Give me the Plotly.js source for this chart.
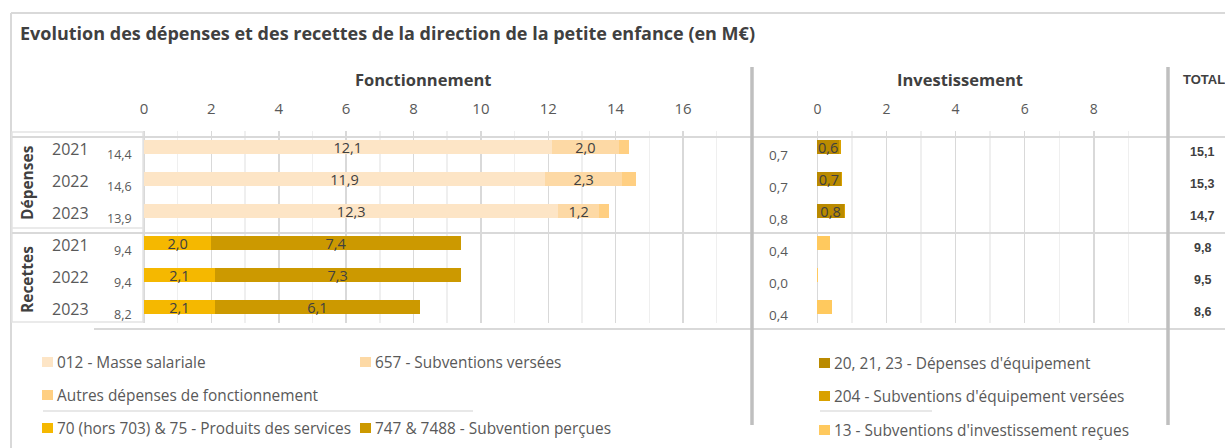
<!DOCTYPE html>
<html>
<head>
<meta charset="utf-8">
<script src="https://cdn.plot.ly/plotly-3.0.1.min.js"></script>
<style>
html,body{margin:0;padding:0;background:#fff;}
#chart{width:1225px;height:448px;}
</style>
</head>
<body>
<div id="chart"></div>
<script>
// ---------- Data ----------
const years = ['2021', '2022', '2023', '2021', '2022', '2023'];
const groupNames = ['Dépenses', 'Recettes'];
const depRows = [0, 1, 2];
const recRows = [3, 4, 5];

// Fonctionnement - dépenses
const masseSalariale = [12.1, 11.9, 12.3];
const subventionsVersees = [2.0, 2.3, 1.2];
const autresDepFonct = [0.3, 0.4, 0.3];
// Fonctionnement - recettes
const produitsServices = [2.0, 2.1, 2.1];
const subventionPercues = [7.4, 7.3, 6.1];
// Investissement - dépenses
const depEquipement = [0.62, 0.67, 0.76];
const subvEquipVersees = [0.05, 0.05, 0.05];
// Investissement - recettes
const subvInvestRecues = [0.37, 0.03, 0.42];

// Totals shown as labels
const fonctTotals = [14.4, 14.6, 13.9, 9.4, 9.4, 8.2];
const investTotals = [0.7, 0.7, 0.8, 0.4, 0.0, 0.4];
const grandTotals = [15.1, 15.3, 14.7, 9.8, 9.5, 8.6];

const seriesNames = {
  masse: '012 - Masse salariale',
  subv657: '657 - Subventions versées',
  autres: 'Autres dépenses de fonctionnement',
  produits: '70 (hors 703) & 75 - Produits des services',
  subvPercues: '747 & 7488 - Subvention perçues',
  equip: "20, 21, 23 - Dépenses d'équipement",
  subv204: "204 - Subventions d'équipement versées",
  subv13: "13 - Subventions d'investissement reçues"
};
const colors = {
  masse: '#FDE5C6',
  subv657: '#FDD9A5',
  autres: '#FFCF82',
  produits: '#F5B800',
  subvPercues: '#CC9900',
  equip: '#BA8A00',
  subv204: '#D9A100',
  subv13: '#FFC95E'
};

// ---------- Helpers ----------
const W = 1225, T = 131, B = 323;
const xP = x => x / W;
const yP = y => (B - y) / (B - T);
const fmt = v => v.toFixed(1).replace('.', ',');
const FONT = 'Open Sans, Liberation Sans, sans-serif';
const TXT = '#595959';

function barTrace(key, x, y, axis, showText) {
  return {
    type: 'bar', orientation: 'h', name: seriesNames[key],
    x: x, y: y, xaxis: axis, yaxis: 'y',
    width: 0.41,
    marker: {color: colors[key], line: {width: 0}},
    texttemplate: showText ? '%{x:.1f}' : '',
    textposition: showText ? 'inside' : 'none',
    insidetextanchor: 'middle',
    constraintext: 'none',
    textangle: 0,
    textfont: {family: FONT, size: 14.5, color: '#404040'},
    hoverinfo: 'skip', showlegend: false
  };
}

const data = [
  barTrace('masse', masseSalariale, depRows, 'x', true),
  barTrace('subv657', subventionsVersees, depRows, 'x', true),
  barTrace('autres', autresDepFonct, depRows, 'x', false),
  barTrace('produits', produitsServices, recRows, 'x', true),
  barTrace('subvPercues', subventionPercues, recRows, 'x', true),
  barTrace('equip', depEquipement, depRows, 'x2', true),
  barTrace('subv204', subvEquipVersees, depRows, 'x2', false),
  barTrace('subv13', subvInvestRecues, recRows, 'x2', false)
];

// ---------- Annotations ----------
const ann = [];
ann.push({text: 'Evolution des dépenses et des recettes de la direction de la petite enfance (en M€)',
  xref: 'paper', yref: 'paper', x: xP(18), y: yP(33), xanchor: 'left', yanchor: 'middle',
  showarrow: false, font: {family: FONT, size: 18, color: '#404040', weight: 'bold'}});
ann.push({text: 'Fonctionnement', xref: 'paper', yref: 'paper', x: xP(423), y: yP(79),
  xanchor: 'center', yanchor: 'middle', showarrow: false,
  font: {family: FONT, size: 16.5, color: '#404040', weight: 'bold'}});
ann.push({text: 'Investissement', xref: 'paper', yref: 'paper', x: xP(960), y: yP(79),
  xanchor: 'center', yanchor: 'middle', showarrow: false,
  font: {family: FONT, size: 16.5, color: '#404040', weight: 'bold'}});
ann.push({text: 'TOTAL', xref: 'paper', yref: 'paper', x: xP(1181), y: yP(79),
  xanchor: 'left', yanchor: 'middle', showarrow: false,
  font: {family: 'Liberation Sans, sans-serif', size: 13, color: '#404040', weight: 'bold'}});
// group labels
ann.push({text: groupNames[0], xref: 'paper', yref: 'y', x: xP(27), y: 1, yshift: -4,
  textangle: -90, xanchor: 'center', yanchor: 'middle', showarrow: false,
  font: {family: FONT, size: 15.5, color: '#404040', weight: 'bold'}});
ann.push({text: groupNames[1], xref: 'paper', yref: 'y', x: xP(27), y: 4, yshift: -5,
  textangle: -90, xanchor: 'center', yanchor: 'middle', showarrow: false,
  font: {family: FONT, size: 15.5, color: '#404040', weight: 'bold'}});
years.forEach((yr, i) => {
  ann.push({text: yr, xref: 'paper', yref: 'y', x: xP(70), y: i, yshift: -2,
    xanchor: 'center', yanchor: 'middle', showarrow: false,
    font: {family: FONT, size: 16, color: TXT}});
  ann.push({text: fmt(fonctTotals[i]), xref: 'paper', yref: 'y', x: xP(134), y: i, yshift: -7,
    xanchor: 'right', yanchor: 'middle', showarrow: false,
    font: {family: FONT, size: 12.5, color: TXT}});
  ann.push({text: fmt(investTotals[i]), xref: 'paper', yref: 'y', x: xP(778), y: i, yshift: -8,
    xanchor: 'center', yanchor: 'middle', showarrow: false,
    font: {family: FONT, size: 13.5, color: TXT}});
  ann.push({text: fmt(grandTotals[i]), xref: 'paper', yref: 'y', x: xP(1202), y: i, yshift: -5,
    xanchor: 'center', yanchor: 'middle', showarrow: false,
    font: {family: 'Liberation Sans, sans-serif', size: 12.5, color: '#404040', weight: 'bold'}});
});

// ---------- Shapes ----------
const shapes = [];
function line(x0, y0, x1, y1, color, width) {
  shapes.push({type: 'line', xref: 'paper', yref: 'paper', x0: xP(x0), x1: xP(x1),
    y0: yP(y0), y1: yP(y1), line: {color: color, width: width}});
}
// outer frame
line(11, 13, 1225, 13, '#d9d9d9', 2);
line(11, 13, 11, 448, '#d9d9d9', 2);
// left label box
shapes.push({type: 'rect', xref: 'paper', yref: 'paper', x0: xP(12), x1: xP(143), y0: yP(132), y1: yP(322),
  line: {color: '#e3e3e3', width: 1.5}, fillcolor: 'rgba(0,0,0,0)'});
line(12, 228, 143, 228, '#e3e3e3', 1.5);
// row group borders
line(12, 137, 1225, 137, '#d9d9d9', 2);
line(12, 233, 1225, 233, '#d9d9d9', 2);
line(94, 329, 1225, 329, '#d9d9d9', 2);
// separators
line(752, 67, 752, 425, '#bfbfbf', 3.5);
line(1168, 67, 1168, 425, '#bfbfbf', 3.5);
// legend underlines
line(43, 411, 473, 411, '#e0e0e0', 1.5);
line(820, 411, 932, 411, '#e0e0e0', 1.5);

// ---------- Legend (drawn manually) ----------
const legendItems = [
  {key: 'masse', x: 42, y: 362},
  {key: 'subv657', x: 360, y: 362},
  {key: 'autres', x: 42, y: 395},
  {key: 'produits', x: 42, y: 428},
  {key: 'subvPercues', x: 360, y: 428},
  {key: 'equip', x: 819, y: 363},
  {key: 'subv204', x: 819, y: 396},
  {key: 'subv13', x: 819, y: 430}
];
legendItems.forEach(it => {
  shapes.push({type: 'rect', xref: 'paper', yref: 'paper', x0: xP(it.x), x1: xP(it.x + 11),
    y0: yP(it.y - 5), y1: yP(it.y + 5), line: {width: 0}, fillcolor: colors[it.key]});
  ann.push({text: seriesNames[it.key], xref: 'paper', yref: 'paper', x: xP(it.x + 13), y: yP(it.y),
    xanchor: 'left', yanchor: 'middle', showarrow: false,
    font: {family: FONT, size: 15.4, color: TXT}});
});

// ---------- Layout ----------
const axisCommon = {
  side: 'top', anchor: 'y', tick0: 0, dtick: 2,
  showgrid: true, gridcolor: '#d9d9d9', gridwidth: 1.5,
  minor: {dtick: 1, showgrid: true, gridcolor: '#efefef', gridwidth: 1.5},
  zeroline: false, showline: false, ticks: '',
  tickfont: {family: FONT, size: 15, color: TXT},
  ticklabelstandoff: 13, fixedrange: true
};
const layout = {
  width: 1225, height: 448,
  margin: {l: 0, r: 0, t: T, b: 448 - B, pad: 0},
  paper_bgcolor: '#ffffff', plot_bgcolor: 'rgba(0,0,0,0)',
  separators: ', ',
  barmode: 'stack', showlegend: false,
  font: {family: FONT, color: TXT},
  xaxis: Object.assign({}, axisCommon, {domain: [xP(143), xP(747)], range: [-0.03, 17.9]}),
  xaxis2: Object.assign({}, axisCommon, {domain: [xP(816), xP(1156)], range: [-0.04, 9.8],
    tickfont: {family: FONT, size: 14, color: TXT}}),
  yaxis: {range: [5.5, -0.5], showgrid: false, zeroline: false, showticklabels: false,
    showline: false, ticks: '', fixedrange: true},
  annotations: ann,
  shapes: shapes
};

Plotly.newPlot('chart', data, layout, {staticPlot: true, displayModeBar: false});
</script>
</body>
</html>
